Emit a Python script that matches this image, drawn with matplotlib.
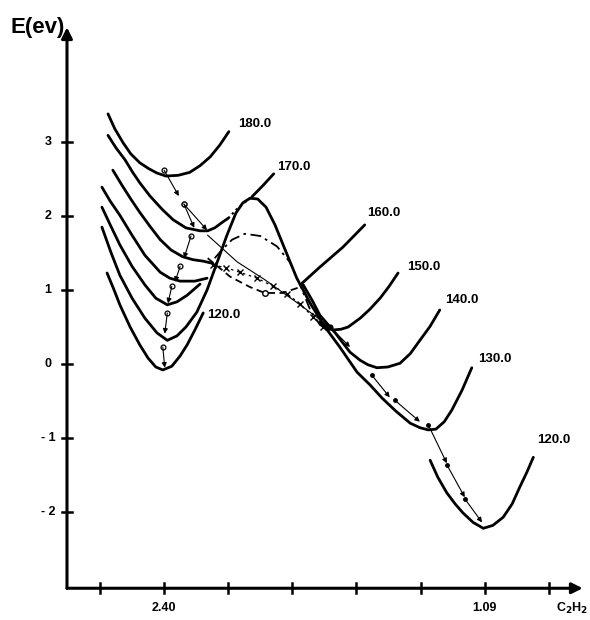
import numpy as np
import matplotlib.pyplot as plt

plt.rcParams['font.family'] = ['Liberation Sans', 'DejaVu Sans']

# x is measured in tick steps along the C2H2 axis, y in eV
x_ticks = [0, 1, 2, 3, 4, 5, 6, 7]
x_tick_labels = {1: '2.40', 6: '1.09'}
y_ticks = [3, 2, 1, 0, -1, -2]

# left-hand wells for each bending angle
l180_x = [0.125, 0.23, 0.36, 0.48, 0.62, 0.76, 0.89, 1.03, 1.22, 1.40,
          1.56, 1.72, 1.87, 2.01]
l180_e = [3.38, 3.18, 2.99, 2.84, 2.72, 2.64, 2.58, 2.54, 2.55, 2.59,
          2.68, 2.80, 2.96, 3.14]

l170_x = [0.125, 0.25, 0.39, 0.51, 0.62, 0.78, 0.97, 1.14, 1.34, 1.56,
          1.68, 1.79, 1.90, 2.00]
l170_e = [3.09, 2.92, 2.76, 2.59, 2.45, 2.27, 2.09, 1.95, 1.84, 1.80,
          1.80, 1.84, 1.91, 1.97]
l170_dot_x = [2.00, 2.12, 2.25, 2.37]
l170_dot_e = [1.97, 2.08, 2.18, 2.26]
l170_top_x = [2.37, 2.54, 2.71]
l170_top_e = [2.26, 2.41, 2.57]

l160_x = [0.20, 0.34, 0.48, 0.62, 0.78, 0.94, 1.11, 1.29, 1.45, 1.61, 1.76]
l160_e = [2.62, 2.42, 2.23, 2.05, 1.86, 1.68, 1.54, 1.45, 1.41, 1.39, 1.36]

l150_x = [0.03, 0.16, 0.31, 0.50, 0.70, 0.94, 1.09, 1.25, 1.48, 1.67]
l150_e = [2.39, 2.20, 2.01, 1.74, 1.47, 1.24, 1.16, 1.12, 1.12, 1.16]

l140_x = [0.03, 0.16, 0.31, 0.50, 0.70, 0.87, 1.05, 1.20, 1.36, 1.56]
l140_e = [2.12, 1.88, 1.61, 1.32, 1.07, 0.89, 0.80, 0.84, 0.93, 1.08]

# 130 curve: left well, barrier and the deep right well
c130_x = [0.03, 0.17, 0.31, 0.50, 0.70, 0.89, 1.05, 1.20, 1.34, 1.51,
          1.67, 1.83, 1.98, 2.12, 2.23, 2.34, 2.46, 2.59, 2.73, 2.89,
          3.07, 3.28, 3.51, 3.74, 4.01, 4.21, 4.40, 4.62, 4.84, 4.99,
          5.12, 5.24, 5.37, 5.49, 5.65, 5.80]
c130_e = [1.85, 1.51, 1.20, 0.89, 0.62, 0.42, 0.32, 0.38, 0.50, 0.70,
          1.00, 1.38, 1.74, 2.04, 2.18, 2.24, 2.23, 2.12, 1.88, 1.54,
          1.16, 0.82, 0.50, 0.23, -0.11, -0.28, -0.46, -0.64, -0.80, -0.86,
          -0.89, -0.88, -0.78, -0.62, -0.35, -0.05]

l120_x = [0.11, 0.22, 0.31, 0.47, 0.62, 0.75, 0.87, 0.98, 1.12, 1.25,
          1.36, 1.48, 1.61]
l120_e = [1.23, 1.00, 0.80, 0.50, 0.26, 0.08, -0.04, -0.08, -0.03, 0.11,
          0.26, 0.46, 0.69]

# right-hand wells
r160_x = [3.15, 3.43, 3.79, 4.13]
r160_e = [1.09, 1.31, 1.58, 1.88]

r150_x = [3.43, 3.54, 3.63, 3.76, 3.87, 4.06, 4.21, 4.37, 4.51, 4.65]
r150_e = [0.57, 0.50, 0.46, 0.47, 0.50, 0.62, 0.74, 0.89, 1.05, 1.23]

r140_x = [3.17, 3.31, 3.43, 3.67, 3.90, 4.06, 4.18, 4.32, 4.49, 4.68,
          4.84, 4.99, 5.15, 5.30]
r140_e = [1.07, 0.86, 0.66, 0.42, 0.16, 0.05, -0.01, -0.05, -0.04, 0.01,
          0.14, 0.32, 0.51, 0.73]

r120_x = [5.15, 5.27, 5.41, 5.54, 5.66, 5.82, 5.98, 6.13, 6.29, 6.43,
          6.55, 6.66, 6.76]
r120_e = [-1.30, -1.53, -1.74, -1.89, -2.01, -2.14, -2.22, -2.18, -2.07,
          -1.89, -1.66, -1.46, -1.26]

# broken-line paths across the barrier
dashdot_x = [1.79, 1.90, 2.06, 2.26, 2.50, 2.76, 2.96, 3.12, 3.28, 3.43, 3.63]
dashdot_e = [1.43, 1.54, 1.68, 1.76, 1.73, 1.59, 1.38, 1.07, 0.73, 0.53, 0.42]

dashed_x = [1.68, 2.03, 2.34, 2.57, 2.85, 3.12, 3.17]
dashed_e = [1.43, 1.18, 1.04, 0.96, 0.96, 1.04, 1.08]

cross_x = [1.76, 1.97, 2.18, 2.45, 2.70, 2.92, 3.12, 3.32, 3.48]
cross_e = [1.34, 1.30, 1.24, 1.16, 1.05, 0.95, 0.81, 0.64, 0.50]

thin_x = [1.68, 2.14, 2.57, 3.12, 3.59]
thin_e = [1.74, 1.38, 1.14, 0.80, 0.50]

# relaxation steps (start, end)
steps_left = [((1.00, 2.62), (1.23, 2.27)),
              ((1.31, 2.16), (1.47, 1.84)),
              ((1.31, 2.16), (1.67, 1.81)),
              ((1.42, 1.73), (1.31, 1.43)),
              ((1.25, 1.32), (1.17, 1.11)),
              ((1.12, 1.05), (1.06, 0.82)),
              ((1.05, 0.69), (1.01, 0.41)),
              ((0.98, 0.23), (1.01, -0.05))]
steps_right = [((3.59, 0.50), (3.90, 0.23)),
               ((4.24, -0.15), (4.52, -0.45)),
               ((4.60, -0.49), (4.99, -0.78)),
               ((5.12, -0.82), (5.41, -1.34)),
               ((5.41, -1.36), (5.69, -1.80)),
               ((5.69, -1.82), (5.96, -2.14))]

curve_labels = [('180.0', 2.15, 3.24), ('170.0', 2.76, 2.66),
                ('120.0', 1.67, 0.66), ('160.0', 4.17, 2.04),
                ('150.0', 4.79, 1.31), ('140.0', 5.38, 0.86),
                ('130.0', 5.90, 0.07), ('120.0', 6.82, -1.03)]

fig = plt.figure(figsize=(5.9, 6.2), dpi=100)
ax = fig.add_axes([0, 0, 1, 1])
ax.set_xlim(-1.560, 7.644)
ax.set_ylim(-3.459, 4.919)
ax.axis('off')

thick = dict(color='k', lw=2.0, solid_capstyle='round', solid_joinstyle='round')
for xs, es in [(l180_x, l180_e), (l170_x, l170_e), (l170_top_x, l170_top_e),
               (l160_x, l160_e), (l150_x, l150_e), (l140_x, l140_e),
               (c130_x, c130_e), (l120_x, l120_e), (r160_x, r160_e),
               (r150_x, r150_e), (r140_x, r140_e), (r120_x, r120_e)]:
    ax.plot(xs, es, **thick)

ax.plot(l170_dot_x, l170_dot_e, color='k', lw=1.6, ls=(0, (1, 1.5)))
ax.plot(dashdot_x, dashdot_e, color='k', lw=1.3, ls=(0, (6, 2.5, 1.5, 2.5)))
ax.plot(dashed_x, dashed_e, color='k', lw=1.3, ls=(0, (4, 2.5)))
ax.plot([dashed_x[3]], [dashed_e[3]], 'o', ms=4, mfc='white', mec='k', mew=1)
ax.plot(cross_x, cross_e, color='k', lw=0.9, ls=(0, (2, 3)),
        marker='x', ms=4, mew=1)
ax.plot(thin_x, thin_e, color='k', lw=0.8)
ax.plot([thin_x[-1]], [thin_e[-1]], 'o', ms=3.5, mfc='white', mec='k', mew=0.9)

arrow = dict(arrowstyle='-|>', lw=0.8, color='k', mutation_scale=7,
             shrinkA=0, shrinkB=0)
for p0, p1 in steps_left:
    ax.annotate('', xy=p1, xytext=p0, arrowprops=arrow)
    ax.plot([p0[0]], [p0[1]], 'o', ms=3.5, mfc='white', mec='k', mew=0.9)
for p0, p1 in steps_right:
    ax.annotate('', xy=p1, xytext=p0, arrowprops=arrow)
    ax.plot([p0[0]], [p0[1]], 'o', ms=2.5, mfc='k', mec='k')

for text, tx, te in curve_labels:
    ax.text(tx, te, text, fontsize=9.5, fontweight='bold', ha='left',
            va='center')

# axes drawn by hand with arrow heads
x0, e0 = -0.515, -3.03
axis_arrow = dict(arrowstyle='-|>', lw=2.2, color='k', mutation_scale=16,
                  shrinkA=0, shrinkB=0)
ax.annotate('', xy=(7.53, e0), xytext=(x0, e0), arrowprops=axis_arrow)
ax.annotate('', xy=(x0, 4.55), xytext=(x0, e0), arrowprops=axis_arrow)

for t in x_ticks:
    ax.plot([t, t], [e0 - 0.07, e0 + 0.07], color='k', lw=1.8)
for t, lab in x_tick_labels.items():
    ax.text(t, -3.30, lab, fontsize=9, fontweight='bold', ha='center',
            va='center')
ax.text(7.36, -3.30, 'C$_\\mathbf{2}$H$_\\mathbf{2}$', fontsize=9,
        fontweight='bold', ha='center', va='center')

for e in y_ticks:
    ax.plot([x0 - 0.08, x0 + 0.08], [e, e], color='k', lw=1.8)
    ax.text(-0.81, e, f'{e:g}'.replace('-', '- '), fontsize=9,
            fontweight='bold', ha='center', va='center')

ax.text(-1.40, 4.55, 'E(ev)', fontsize=16, fontweight='bold', ha='left',
        va='center')

fig.savefig('out.png', dpi=100)
